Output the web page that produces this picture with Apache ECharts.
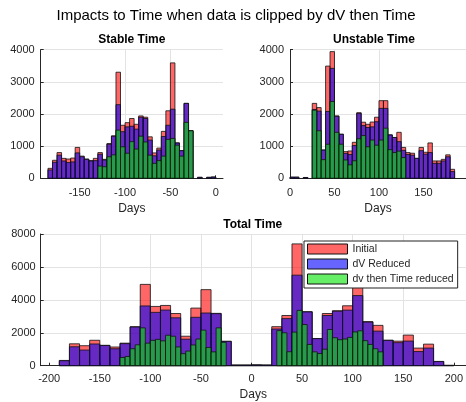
<!DOCTYPE html>
<html>
<head>
<meta charset="utf-8">
<script src="https://cdn.jsdelivr.net/npm/echarts@6/dist/echarts.min.js"></script>
<style>
  html, body { margin: 0; padding: 0; background: #ffffff; }
  #chart { width: 466px; height: 402px; }
</style>
</head>
<body>
<div id="chart"></div>
<script>
// ---- Stable time histogram (5-day bins, left edges) ----
const stableEdges = [-185, -180, -175, -170, -165, -160, -155, -150, -145, -140, -135, -130, -125, -120, -115,
  -110, -105, -100, -95, -90, -85, -80, -75, -70, -65, -60, -55, -50, -45, -40, -35, -30, -25, -20, -15, -10, -5];
const stableInitial = [310, 560, 800, 620, 600, 630, 960, 690, 600, 550, 620, 800, 590, 1080, 1320,
  3300, 1650, 1730, 1860, 1680, 1940, 1900, 1290, 790, 940, 1460, 2100, 3590, 1100, 860, 2330, 1480, 0, 30, 0, 30, 40];
const stableDvReduced = [260, 500, 720, 540, 490, 510, 790, 670, 590, 540, 550, 750, 570, 1060, 1310,
  2290, 1450, 1600, 1620, 1530, 1900, 1860, 1190, 700, 880, 1300, 1650, 2150, 1100, 860, 2330, 1480, 0, 30, 0, 30, 40];
const stableTimeEdges = [-130, -125, -120, -115, -110, -105, -100, -95, -90, -85, -80, -75, -70, -65, -60,
  -55, -50, -45, -40, -35, -30];
const stableTimeReduced = [380, 360, 670, 730, 1500, 980, 780, 1140, 910, 1310, 1130, 720, 465, 550, 690,
  1210, 1240, 1030, 690, 1740, 1480];

// ---- Unstable time histogram (5-day bins, left edges) ----
const unstableEdges = [0, 5, 10, 15, 20, 25, 30, 35, 40, 45, 50, 55, 60, 65, 70, 75, 80, 85, 90, 95,
  100, 105, 110, 115, 120, 125, 130, 135, 140, 145, 150, 155, 160, 165, 170, 175, 180];
const unstableInitial = [35, 35, 0, 25, 0, 2330, 2200, 880, 3490, 3940, 1940, 1370, 830, 850, 1120,
  2040, 1745, 1680, 1750, 1900, 2415, 2415, 1350, 1270, 1430, 960, 800, 780, 620, 960, 810, 1100, 540, 540, 590, 730, 280];
const unstableDvReduced = [35, 35, 0, 25, 0, 2140, 2090, 880, 2080, 3420, 1930, 1370, 775, 740, 1020,
  2020, 1640, 1580, 1600, 1760, 2175, 2175, 1350, 1270, 1140, 870, 740, 720, 620, 860, 750, 800, 465, 465, 540, 670, 210];
const unstableTimeEdges = [25, 30, 35, 40, 45, 50, 55, 60, 65, 70, 75, 80, 85, 90, 95, 100, 105, 110, 115, 120, 125];
const unstableTimeReduced = [2120, 1480, 580, 1060, 2390, 1430, 1060, 570, 420, 545, 1230, 1330, 980, 1190, 1030,
  1190, 1560, 890, 800, 845, 645];

// ---- Total time histogram (10-day bins for Initial / dV, 5-day bins for time reduced) ----
const totalEdges = [-190, -180, -170, -160, -150, -140, -130, -120, -110, -100, -90, -80, -70, -60, -50, -40, -30,
  -20, -10, 0, 10, 20, 30, 40, 50, 60, 70, 80, 90, 100, 110, 120, 130, 140, 150, 160, 170, 180, 190];
const totalInitial = [320, 1330, 1215, 1545, 1240, 1135, 1370, 2370, 4940, 3600, 3660, 3170, 1790, 3500, 4620, 3180, 1480,
  40, 40, 50, 40, 2370, 3050, 7400, 3280, 1650, 3170, 3340, 3640, 4860, 2680, 2450, 1550, 1490, 1860, 1070, 1310, 260, 20];
const totalDvReduced = [300, 1150, 950, 1320, 1225, 1030, 1340, 2350, 3630, 3240, 3380, 2910, 1610, 2940, 3200, 3160, 1480,
  40, 40, 50, 40, 2230, 2860, 5500, 3270, 1645, 3050, 3310, 3375, 4260, 2650, 2100, 1535, 1400, 1495, 860, 1070, 250, 20];
const totalTimeEdges = [-130, -125, -120, -115, -110, -105, -100, -95, -90, -85, -80, -75, -70, -65, -60, -55, -50, -45, -40, -35, -30,
  25, 30, 35, 40, 45, 50, 55, 60, 65, 70, 75, 80, 85, 90, 95, 100, 105, 110, 115, 120, 125];
const totalTimeReduced = [500, 560, 1030, 1270, 2300, 1370, 1540, 1600, 1510, 1850, 1790, 1140, 730, 890, 1260, 1620, 2160, 1110, 840, 2300, 1420,
  2130, 2000, 850, 2040, 3360, 2500, 1290, 840, 740, 1000, 2200, 1700, 1580, 1620, 1720, 2050, 2120, 1520, 1290, 1030, 840];

// ---- Tick labels ----
const stableTicks = [-150, -100, -50, 0];
const unstableTicks = [0, 50, 100, 150];
const totalTicks = [-200, -150, -100, -50, 0, 50, 100, 150, 200];

const seriesNames = ['Initial', 'dV Reduced', 'dv then Time reduced'];
const fills = ['rgba(255,0,0,0.6)', 'rgba(0,0,255,0.6)', 'rgba(0,228,0,0.6)'];
const edgeColor = '#111111';
const FONT = '"Liberation Sans", Arial, Helvetica, sans-serif';
const AXIS_COLOR = '#262626';

function bins(edges, width, values) {
  return edges.map((e, i) => [e, e + width, values[i]]);
}

function renderBin(params, api) {
  const v = api.value(2);
  if (!v) return null;
  const a = api.coord([api.value(0), v]);
  const b = api.coord([api.value(1), 0]);
  return {
    type: 'rect',
    shape: { x: a[0], y: a[1], width: b[0] - a[0], height: b[1] - a[1] },
    style: { fill: fills[params.seriesIndex % 3], stroke: edgeColor, lineWidth: 0.8 }
  };
}

function histSeries(name, colorIdx, gridIdx, data) {
  return {
    type: 'custom',
    name: name,
    xAxisIndex: gridIdx,
    yAxisIndex: gridIdx,
    renderItem: renderBin,
    encode: { x: [0, 1], y: 2 },
    itemStyle: { color: fills[colorIdx], borderColor: edgeColor, borderWidth: 1 },
    data: data,
    silent: true
  };
}

function xAxis(gridIdx, min, max, ticks, nameGap, splitNumber, margin) {
  return {
    type: 'value', gridIndex: gridIdx, min: min, max: max, splitNumber: splitNumber,
    name: 'Days', nameLocation: 'middle', nameGap: nameGap,
    nameTextStyle: { fontFamily: FONT, fontSize: 12, color: AXIS_COLOR },
    axisLine: { show: true, onZero: false, lineStyle: { color: AXIS_COLOR, width: 1 } },
    axisTick: { show: true, inside: true, length: 3, customValues: ticks, lineStyle: { color: AXIS_COLOR } },
    axisLabel: { customValues: ticks, margin: margin, fontFamily: FONT, fontSize: 11, color: AXIS_COLOR },
    splitLine: { show: true, showMinLine: false, showMaxLine: false, lineStyle: { color: '#e3e3e3', width: 1 } }
  };
}

function yAxis(gridIdx, max, interval, margin) {
  return {
    type: 'value', gridIndex: gridIdx, min: 0, max: max, interval: interval,
    axisLine: { show: true, onZero: false, lineStyle: { color: AXIS_COLOR, width: 1 } },
    axisTick: { show: true, inside: true, length: 3, lineStyle: { color: AXIS_COLOR } },
    axisLabel: { margin: margin, fontFamily: FONT, fontSize: 11, color: AXIS_COLOR,
      formatter: (v) => String(v) },
    splitLine: { show: true, lineStyle: { color: '#e3e3e3', width: 1 } }
  };
}

const chart = echarts.init(document.getElementById('chart'), null, { renderer: 'canvas' });

const titleStyle = { fontFamily: FONT, fontSize: 12, fontWeight: 'bold', color: '#000000' };

chart.setOption({
  animation: false,
  backgroundColor: '#ffffff',
  title: [
    { text: 'Impacts to Time when data is clipped by dV then Time', left: 236, top: 8, textAlign: 'center', padding: 0,
      textStyle: { fontFamily: FONT, fontSize: 15, fontWeight: 'normal', color: '#000000' } },
    { text: 'Stable Time', left: 131.8, top: 34, textAlign: 'center', padding: 0, textStyle: titleStyle },
    { text: 'Unstable Time', left: 374, top: 34, textAlign: 'center', padding: 0, textStyle: titleStyle },
    { text: 'Total Time', left: 252.8, top: 219, textAlign: 'center', padding: 0, textStyle: titleStyle }
  ],
  legend: {
    orient: 'vertical',
    left: 304, top: 241,
    padding: [2, 4, 3, 3],
    itemWidth: 40, itemHeight: 10, itemGap: 3,
    backgroundColor: '#ffffff',
    borderColor: '#222222', borderWidth: 1, borderRadius: 0,
    icon: 'rect',
    selectedMode: false,
    textStyle: { fontFamily: FONT, fontSize: 10.5, color: AXIS_COLOR, lineHeight: 12 },
    data: seriesNames.map((n, i) => ({
      name: n,
      itemStyle: { color: fills[i], borderColor: edgeColor, borderWidth: 1 }
    }))
  },
  grid: [
    { left: 40.7, top: 49.7, width: 182.3, height: 128.6, containLabel: false },
    { left: 290, top: 49.7, width: 180, height: 128.6, containLabel: false },
    { left: 40.7, top: 234, width: 429.3, height: 131.7, containLabel: false }
  ],
  xAxis: [
    xAxis(0, -193, 8, stableTicks, 24, 4, 9),
    xAxis(1, 0, 197.8, unstableTicks, 24, 4, 9),
    xAxis(2, -208.4, 211.8, totalTicks, 23, 8, 8)
  ],
  yAxis: [
    yAxis(0, 4000, 1000, 6),
    yAxis(1, 4000, 1000, 6),
    yAxis(2, 8000, 2000, 5)
  ],
  series: [
    histSeries(seriesNames[0], 0, 0, bins(stableEdges, 5, stableInitial)),
    histSeries(seriesNames[1], 1, 0, bins(stableEdges, 5, stableDvReduced)),
    histSeries(seriesNames[2], 2, 0, bins(stableTimeEdges, 5, stableTimeReduced)),
    histSeries(seriesNames[0], 0, 1, bins(unstableEdges, 5, unstableInitial)),
    histSeries(seriesNames[1], 1, 1, bins(unstableEdges, 5, unstableDvReduced)),
    histSeries(seriesNames[2], 2, 1, bins(unstableTimeEdges, 5, unstableTimeReduced)),
    histSeries(seriesNames[0], 0, 2, bins(totalEdges, 10, totalInitial)),
    histSeries(seriesNames[1], 1, 2, bins(totalEdges, 10, totalDvReduced)),
    histSeries(seriesNames[2], 2, 2, bins(totalTimeEdges, 5, totalTimeReduced))
  ]
});
</script>
</body>
</html>
